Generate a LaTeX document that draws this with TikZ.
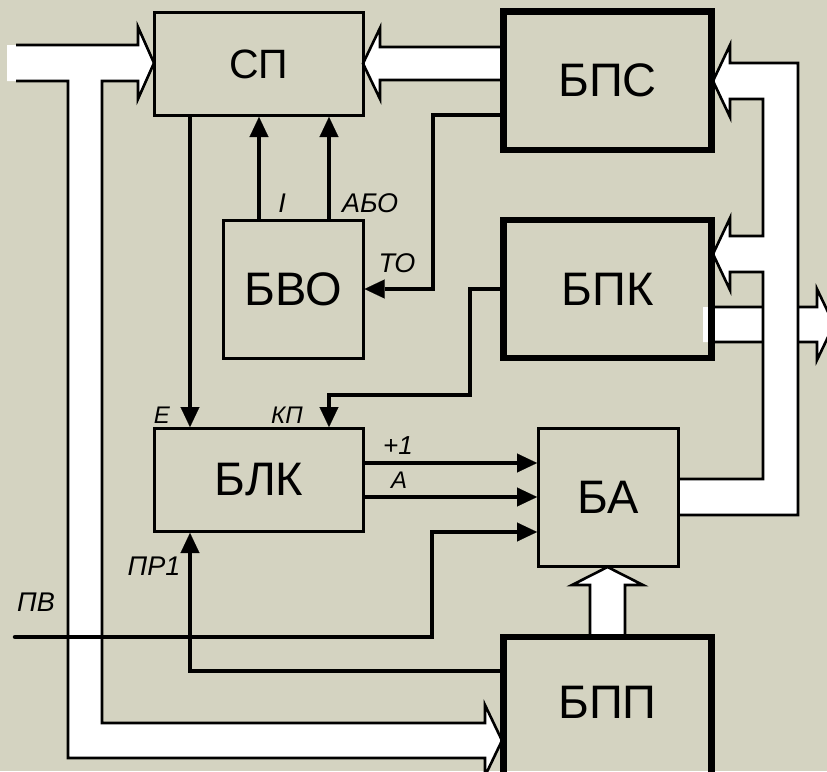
\documentclass[tikz,border=0pt]{standalone}
\usepackage{fontspec}
\setmainfont{Liberation Sans}
\usetikzlibrary{arrows.meta,calc}
\definecolor{bg}{RGB}{212,211,193}
\begin{document}
\begin{tikzpicture}[x=1pt,y=-1pt,
  thinbox/.style={draw, line width=2.6pt, rectangle, inner sep=0pt, font=\fontsize{47}{47}\selectfont},
  thickbox/.style={draw, line width=6.5pt, rectangle, inner sep=0pt, font=\fontsize{47}{47}\selectfont},
  conn/.style={line width=4.5pt, -{Triangle[length=20pt,width=19pt,line width=0.1pt]}},
  bus/.style={line width=2.6pt, line join=miter},
  lbl/.style={font=\fontsize{27}{27}\selectfont\itshape, inner sep=0pt},
  lbls/.style={font=\fontsize{24}{24}\selectfont\itshape, inner sep=0pt},
  txt/.style={font=\fontsize{47}{47}\selectfont, inner sep=0pt}
]
\fill[bg] (0,0) rectangle (827,771);
\useasboundingbox (0,0) rectangle (827,771);

% wide buses
\fill[white] (7,45) -- (138,45) -- (138,27) -- (154,63) -- (138,99) -- (138,81) -- (102,81) -- (102,723) -- (485,723) -- (485,705) -- (502,740.5) -- (485,776) -- (485,758) -- (68,758) -- (68,81) -- (7,81) -- cycle;
\draw[bus] (16,45) -- (138,45) -- (138,27) -- (154,63) -- (138,99) -- (138,81) -- (102,81) -- (102,723) -- (485,723) -- (485,705) -- (502,740.5) -- (485,776) -- (485,758) -- (68,758) -- (68,81) -- (16,81);

\fill[white] (503,47) -- (380,47) -- (380,28) -- (363,63.5) -- (380,99) -- (380,80) -- (503,80) -- cycle;
\draw[bus] (503,47) -- (380,47) -- (380,28) -- (363,63.5) -- (380,99) -- (380,80) -- (503,80);

\fill[white] (703,307) -- (817,307) -- (817,289) -- (834,324.5) -- (817,360) -- (817,342) -- (703,342) -- cycle;
\draw[bus] (713,307) -- (817,307) -- (817,289) -- (834,324.5) -- (817,360) -- (817,342) -- (713,342);

\fill[white] (678,479) -- (763,479) -- (763,272) -- (730,272) -- (730,290) -- (713,254) -- (730,218) -- (730,236) -- (763,236) -- (763,99) -- (730,99) -- (730,117) -- (713,81) -- (730,45) -- (730,63) -- (798,63) -- (798,515) -- (678,515) -- cycle;
\draw[bus] (678,479) -- (763,479) -- (763,272) -- (730,272) -- (730,290) -- (713,254) -- (730,218) -- (730,236) -- (763,236) -- (763,99) -- (730,99) -- (730,117) -- (713,81) -- (730,45) -- (730,63) -- (798,63) -- (798,515) -- (678,515);

\fill[white] (590,637) -- (590,585) -- (572,585) -- (607.5,567) -- (643,585) -- (625,585) -- (625,637) -- cycle;
\draw[bus] (590,637) -- (590,585) -- (572,585) -- (607.5,567) -- (643,585) -- (625,585) -- (625,637);

% boxes
\node[thinbox, minimum width=209pt, minimum height=103.4pt, font=\fontsize{41}{41}\selectfont] (sp) at (258.8,64) {СП};
\node[thickbox, minimum width=208pt, minimum height=138.5pt] (bps) at (607.5,80.75) {БПС};
\node[thickbox, minimum width=208pt, minimum height=138pt] (bpk) at (607.5,289) {БПК};
\node[thinbox, minimum width=140pt, minimum height=138pt] (bvo) at (293.3,289.2) {БВО};
\node[thinbox, minimum width=209pt, minimum height=103.4pt] (blk) at (258.8,480) {БЛК};
\node[thinbox, minimum width=140pt, minimum height=138.4pt] (ba) at (608.3,497.5) {БА};
\node[thickbox, minimum width=208pt, minimum height=170pt, anchor=north] (bpp) at (607.5,633.5) {};
\node[txt] (bpplabel) at (607.5,702.5) {БПП};

% connectors
\coordinate (xE) at (190,0);
\draw[conn] (sp.south -| xE) -- (blk.north -| xE);
\coordinate (xI) at (259,0);
\draw[conn] (bvo.north -| xI) -- (sp.south -| xI);
\coordinate (xABO) at (329,0);
\draw[conn] (bvo.north -| xABO) -- (sp.south -| xABO);

\coordinate (to1) at (433,115);
\coordinate (to2) at (433,289);
\draw[conn] (bps.west |- to1) -- (to1) -- (to2) -- (bvo.east |- to2);

\coordinate (kp1) at (470,289);
\coordinate (kp2) at (470,395);
\coordinate (kp3) at (329,395);
\draw[conn] (bpk.west |- kp1) -- (kp1) -- (kp2) -- (kp3) -- (blk.north -| kp3);

\coordinate (yP) at (0,463);
\draw[conn] (blk.east |- yP) -- (ba.west |- yP);
\coordinate (yA) at (0,497);
\draw[conn] (blk.east |- yA) -- (ba.west |- yA);

\coordinate (pv0) at (15,637);
\coordinate (pv1) at (432,637);
\coordinate (pv2) at (432,532);
\draw[conn, line cap=round] (pv0) -- (pv1) -- (pv2) -- (ba.west |- pv2);

\coordinate (pr1) at (190,671);
\draw[conn] (bpp.west |- pr1) -- (pr1) -- (blk.south -| pr1);

% labels
\node[lbl] (lI) at (282,203) {I};
\node[lbl] (lABO) at (370,203) {АБО};
\node[lbl] (lTO) at (397,263) {ТО};
\node[lbls] (lE) at (162,415) {Е};
\node[lbls] (lKP) at (287,415) {КП};
\node[lbl, font=\fontsize{26}{26}\selectfont\itshape] (lP1) at (398,446) {+1};
\node[lbls] (lA) at (399,480) {А};
\node[lbl] (lPR) at (154,566) {ПР1};
\node[lbl] (lPV) at (36,602) {ПВ};
\end{tikzpicture}
\end{document}
